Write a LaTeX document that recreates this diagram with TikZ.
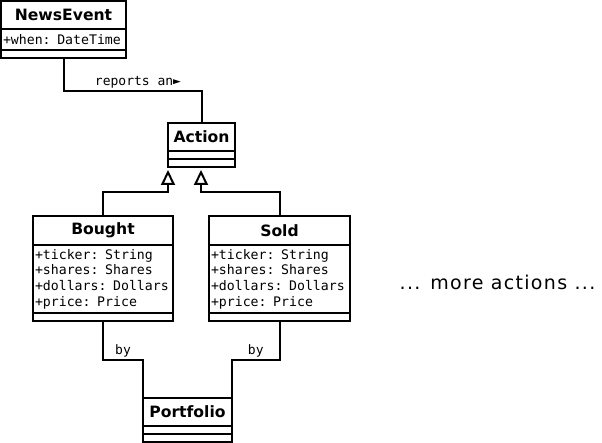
\documentclass[tikz,border=0pt]{standalone}
\usepackage{fontspec}
\setmainfont{DejaVu Sans}
\setmonofont{DejaVu Sans Mono}
\newfontfamily\spacedfont[LetterSpace=7]{DejaVu Sans}
\usetikzlibrary{arrows.meta}
\tikzset{
  cname/.style={draw, anchor=north west, inner sep=0pt, outer sep=0pt, minimum height=28pt, font=\bfseries\fontsize{15.6}{16}\selectfont},
  cattr/.style={draw, anchor=north west, inner xsep=2pt, inner ysep=0pt, outer sep=0pt, align=left, font=\ttfamily\fontsize{13.2}{15.7}\selectfont},
  cnone/.style={draw, anchor=north west, inner sep=0pt, outer sep=0pt, minimum height=8pt},
  lbl/.style={font=\ttfamily\fontsize{13}{15}\selectfont, inner sep=1.5pt},
  gen/.style={-{Triangle[open, length=15pt, width=14pt]}},
}
\begin{document}
\begin{tikzpicture}[x=1pt, y=-1pt, line width=2pt]
\useasboundingbox (0,0) rectangle (602,443);
% NewsEvent
\node[cname, minimum width=125pt] (newsH) at (1,1) {NewsEvent};
\node[cattr, text width=121pt, minimum height=21pt] (newsA) at (newsH.south west) {+when: DateTime};
\node[cnone, minimum width=125pt] (newsE) at (newsA.south west) {};
% Action
\node[cname, minimum width=67pt] (actH) at (168,123) {Action};
\node[cnone, minimum width=67pt] (actA) at (actH.south west) {};
\node[cnone, minimum width=67pt] (actE) at (actA.south west) {};
% Bought
\node[cname, minimum width=140pt, minimum height=29pt] (buyH) at (33,216) {Bought};
\node[cattr, text width=136pt, minimum height=68pt] (buyA) at (buyH.south west)
  {+ticker: String\\+shares: Shares\\+dollars: Dollars\\+price: Price};
\node[cnone, minimum width=140pt] (buyE) at (buyA.south west) {};
% Sold
\node[cname, minimum width=141pt, minimum height=29pt] (sellH) at (209,216) {Sold};
\node[cattr, text width=137pt, minimum height=68pt] (sellA) at (sellH.south west)
  {+ticker: String\\+shares: Shares\\+dollars: Dollars\\+price: Price};
\node[cnone, minimum width=141pt] (sellE) at (sellA.south west) {};
% Portfolio
\node[cname, minimum width=89pt] (portH) at (143,398) {Portfolio};
\node[cnone, minimum width=89pt] (portA) at (portH.south west) {};
\node[cnone, minimum width=89pt] (portE) at (portA.south west) {};

\node[font=\spacedfont\fontsize{19}{21}\selectfont] (more) at (497.5,282) {... more actions ...};

\coordinate (genL) at (168,170);
\coordinate (genR) at (201,170);
\draw (newsE.south) -- ++(0,33) -| node[lbl, pos=0.27, above] {reports an►} (actH.north);
\draw[gen] (buyH.north) -- ++(0,-24) -| (genL);
\draw[gen] (sellH.north) -- ++(0,-24) -| (genR);
\draw (buyE.south) -- ++(0,39) -| node[lbl, pos=0.25, above] {by} (portH.north west);
\draw (sellE.south) -- ++(0,39) -| node[lbl, pos=0.25, above] {by} (portH.north east);
\end{tikzpicture}
\end{document}
